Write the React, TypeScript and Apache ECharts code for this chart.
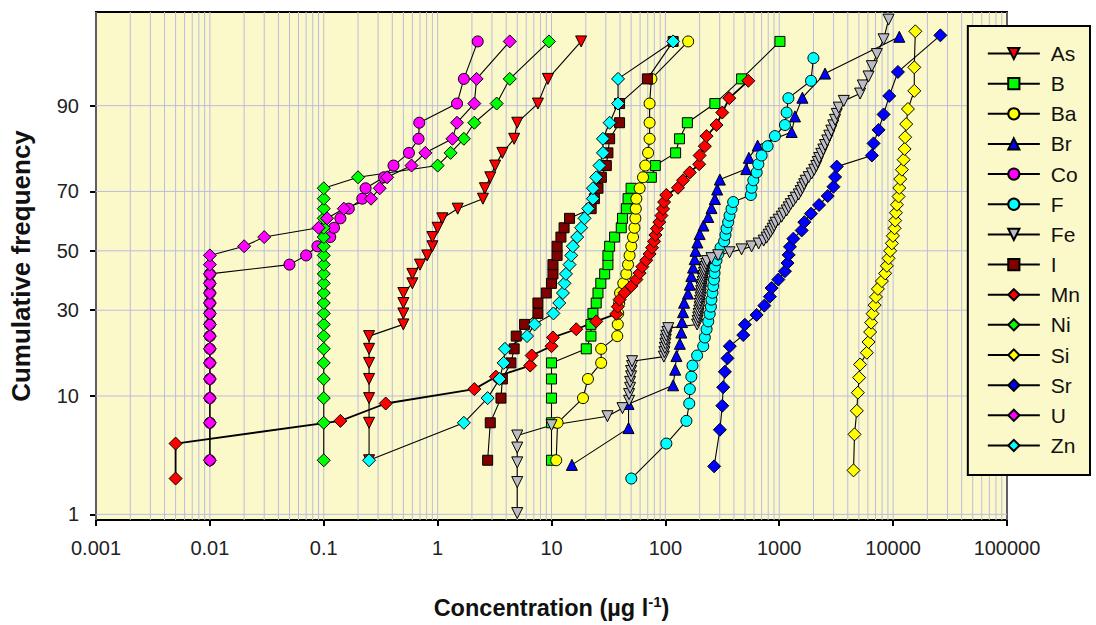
import { useEffect, useRef } from "react";
import * as echarts from "echarts";

// ---------------- data (concentrations in µg/l, sorted, one per sample rank) ----------------
// cumulative frequency of rank i (1-based) = i / (n + 1)
const AS_N = 30;
const AS = [0.25, 0.25, 0.25, 0.25, 0.25, 0.25, 0.25, 0.5, 0.5, 0.5, 0.5, 0.6, 0.6, 0.7, 0.81, 0.9, 0.9, 1.0, 1.1, 1.5, 2.5, 2.6, 2.9, 3.2, 3.7, 4.7, 5.0, 7.6, 9.3, 18.2];
const B_N = 30;
const B = [10, 10, 10, 10, 10, 20.2, 22.2, 22.2, 23.1, 24.7, 25.6, 27.1, 29.3, 31.3, 31.3, 32.4, 35.8, 41, 42, 45.4, 47, 50, 75.3, 81.5, 123, 133, 156, 272, 467, 1014];
const BA_N = 30;
const BA = [11, 11.3, 18.9, 20.9, 27.3, 27.3, 37.8, 38.2, 38.5, 39.3, 40, 42.7, 45.4, 47, 48.5, 50.2, 52, 53.5, 54.5, 55, 55.6, 59.4, 63.6, 66.6, 70.5, 72.7, 72.7, 72.7, 75.4, 158.5];
const BR_N = 33;
const BR = [15.1, 47.5, 47.5, 117, 122, 125, 134, 138, 140, 143, 146, 158, 164, 169, 175, 181, 184, 191, 200, 216, 238, 254, 272, 285, 301, 513, 541, 646, 1285, 1375, 1597, 2524, 11330];
const CO_N = 30;
const CO = [0.01, 0.01, 0.01, 0.01, 0.01, 0.01, 0.01, 0.01, 0.01, 0.01, 0.01, 0.01, 0.01, 0.05, 0.07, 0.088, 0.114, 0.123, 0.14, 0.166, 0.218, 0.233, 0.338, 0.41, 0.56, 0.68, 0.69, 1.48, 1.7, 2.25];
const F_N = 44;
const F = [50.2, 102, 153, 162, 164, 169, 173, 190, 215, 222, 230, 238, 245, 251, 254, 259, 263, 267, 270, 272, 281, 292, 305, 328, 337, 344, 356, 366, 381, 394, 563, 572, 592, 633, 655, 700, 790, 916, 1122, 1161, 1202, 1901, 1995];
const FE_N = 96;
const FE = [5, 5, 5, 5, 5, 10, 31, 42, 48, 48, 49, 49, 50, 50, 51, 51, 97, 98, 99, 100, 101, 102, 104, 106,
  190, 192, 194, 196, 198, 200, 200, 202, 204, 205, 206, 208, 210, 212, 214, 216, 218, 220, 224, 228, 232,
  254, 291, 366, 467, 572, 659, 730, 775, 807, 840, 875, 902, 929, 988, 1050, 1094, 1162, 1211, 1260, 1330,
  1394, 1482, 1542, 1597, 1656, 1707, 1815, 1928, 2028, 2113, 2178, 2245, 2339, 2437, 2524, 2641, 2750, 2865,
  2981, 3092, 3200, 3333, 3688, 5130, 5420, 6083, 6505, 7197, 8245, 9120];
const I_N = 30;
const I = [2.75, 2.9, 3.6, 3.7, 4.4, 4.7, 4.9, 5.8, 7.6, 7.6, 9.0, 10.0, 10.3, 10.3, 11.2, 11.2, 12.1, 12.9, 14.4, 22.3, 23.8, 25.6, 27.4, 30.3, 31.3, 32.4, 39.6, 39.6, 69.5, 117];
const MN_N = 44;
const MN = [0.005, 0.005, 0.14, 0.35, 2.1, 3.25, 6.5, 6.7, 10, 10.3, 16.5, 24.7, 37, 38.2, 39.6, 43.8, 50.2, 55.6, 59.4, 62.7, 68, 72.7, 76.4, 79.5, 81.7, 84.2, 88.5, 92.3, 95.4, 97.5, 102, 129, 143, 164, 198, 200, 222, 230, 281, 316, 364, 535];
const NI_N = 30;
const NI = [0.1, 0.1, 0.1, 0.1, 0.1, 0.1, 0.1, 0.1, 0.1, 0.1, 0.1, 0.1, 0.1, 0.1, 0.1, 0.1, 0.1, 0.1, 0.1, 0.1, 0.1, 0.1, 0.2, 1.0, 1.3, 1.7, 2.1, 3.3, 4.3, 9.5];
const SI_N = 37;
const SI = [4490, 4580, 4800, 4900, 5030, 5130, 5875, 6083, 6283, 6410, 6600, 6875, 7060, 7350, 7965, 8510, 8810, 9120, 9420, 9750, 9960, 10300, 10420, 10580, 10800, 11170, 11320, 11540, 11940, 12360, 12620, 12760, 13030, 13490, 15340, 15340, 15670];
const SR_N = 34;
const SR = [268, 301, 316, 322, 333, 351, 368, 483, 499, 633, 739, 828, 857, 982, 1122, 1182, 1210, 1242, 1330, 1574, 1660, 1900, 2236, 2665, 2993, 3092, 3200, 6505, 6730, 7450, 8245, 9250, 11020, 26000];
const U_N = 30;
const U = [0.01, 0.01, 0.01, 0.01, 0.01, 0.01, 0.01, 0.01, 0.01, 0.01, 0.01, 0.01, 0.01, 0.01, 0.01, 0.02, 0.03, 0.09, 0.107, 0.15, 0.26, 0.31, 0.36, 0.59, 0.78, 1.35, 1.48, 2.1, 2.2, 4.3];
const ZN_N = 30;
const ZN = [0.25, 1.7, 2.75, 3.5, 3.8, 3.9, 6.1, 7.1, 10.4, 11.7, 12.6, 13.0, 13.4, 14.4, 14.9, 15.4, 16.8, 18.2, 19.5, 21, 23.1, 23.1, 24.7, 26.4, 28.3, 28.3, 32.4, 38.4, 38.4, 117];

// axis ticks / ranges
const Y_TICKS = [1, 10, 30, 50, 70, 90]; // cumulative frequency (%)
const Y_RANGE_PCT = [0.875, 98.25];
const X_MIN = 0.001;
const X_MAX = 100000;
const X_DECADES = [0.001, 0.01, 0.1, 1, 10, 100, 1000, 10000, 100000];
const X_MINOR_MULT = [2, 3, 4, 5, 6, 7, 8, 9];

// ---------------- styling ----------------
const FONT = "'Liberation Sans', Arial, Helvetica, sans-serif";
const PLOT_BG = "#fbf9c9";
const GRID_COLOR = "#bdbbdd";

type Meta = { name: string; n: number; values: number[]; symbol: string; rotate: number; color: string; size: number; lw?: number };
const SERIES: Meta[] = [
  { name: "As", n: AS_N, values: AS, symbol: "triangle", rotate: 180, color: "#ff0000", size: 11 },
  { name: "B", n: B_N, values: B, symbol: "rect", rotate: 0, color: "#00ff00", size: 10 },
  { name: "Ba", n: BA_N, values: BA, symbol: "circle", rotate: 0, color: "#ffff00", size: 11 },
  { name: "Br", n: BR_N, values: BR, symbol: "triangle", rotate: 0, color: "#0000ff", size: 11 },
  { name: "Co", n: CO_N, values: CO, symbol: "circle", rotate: 0, color: "#ff00ff", size: 11 },
  { name: "F", n: F_N, values: F, symbol: "circle", rotate: 0, color: "#00ffff", size: 11 },
  { name: "Fe", n: FE_N, values: FE, symbol: "triangle", rotate: 180, color: "#bcbcc4", size: 11 },
  { name: "I", n: I_N, values: I, symbol: "rect", rotate: 0, color: "#800000", size: 10 },
  { name: "Mn", n: MN_N, values: MN, symbol: "diamond", rotate: 0, color: "#ff0000", size: 13, lw: 1.8 },
  { name: "Ni", n: NI_N, values: NI, symbol: "diamond", rotate: 0, color: "#00ff00", size: 13 },
  { name: "Si", n: SI_N, values: SI, symbol: "diamond", rotate: 0, color: "#ffff00", size: 13 },
  { name: "Sr", n: SR_N, values: SR, symbol: "diamond", rotate: 0, color: "#0000ff", size: 13 },
  { name: "U", n: U_N, values: U, symbol: "diamond", rotate: 0, color: "#ff00ff", size: 13 },
  { name: "Zn", n: ZN_N, values: ZN, symbol: "diamond", rotate: 0, color: "#00ffff", size: 13 },
];

// inverse standard normal CDF (probability-scale axis transform)
function probit(p: number): number {
  const a = [-3.969683028665376e1, 2.209460984245205e2, -2.759285104469687e2, 1.38357751867269e2, -3.066479806614716e1, 2.506628277459239];
  const b = [-5.447609879822406e1, 1.615858368580409e2, -1.556989798598866e2, 6.680131188771972e1, -1.328068155288572e1];
  const c = [-7.784894002430293e-3, -3.223964580411365e-1, -2.400758277161838, -2.549732539343734, 4.374664141464968, 2.938163982698783];
  const d = [7.784695709041462e-3, 3.224671290700398e-1, 2.445134137142996, 3.754408661907416];
  const pl = 0.02425;
  if (p < pl) {
    const q = Math.sqrt(-2 * Math.log(p));
    return (((((c[0] * q + c[1]) * q + c[2]) * q + c[3]) * q + c[4]) * q + c[5]) / ((((d[0] * q + d[1]) * q + d[2]) * q + d[3]) * q + 1);
  }
  if (p > 1 - pl) {
    const q = Math.sqrt(-2 * Math.log(1 - p));
    return -(((((c[0] * q + c[1]) * q + c[2]) * q + c[3]) * q + c[4]) * q + c[5]) / ((((d[0] * q + d[1]) * q + d[2]) * q + d[3]) * q + 1);
  }
  const q = p - 0.5;
  const r = q * q;
  return ((((((a[0] * r + a[1]) * r + a[2]) * r + a[3]) * r + a[4]) * r + a[5]) * q) / (((((b[0] * r + b[1]) * r + b[2]) * r + b[3]) * r + b[4]) * r + 1);
}

export default function App() {
  const ref = useRef<HTMLDivElement>(null);

  useEffect(() => {
    if (!ref.current) return;
    const chart = echarts.init(ref.current, undefined, { renderer: "svg" });

    const yMin = probit(Y_RANGE_PCT[0] / 100);
    const yMax = probit(Y_RANGE_PCT[1] / 100);
    const yTickZ = Y_TICKS.map((p) => probit(p / 100));

    const xGrid: number[][] = [];
    X_DECADES.forEach((d, i) => {
      xGrid.push([d, 0]);
      if (i < X_DECADES.length - 1) X_MINOR_MULT.forEach((m) => xGrid.push([d * m, 0]));
    });
    const yGrid = yTickZ.map((z) => [1, z]);

    const dataSeries = SERIES.map((s) => ({
      name: s.name,
      type: "line",
      z: 3,
      data: s.values.map((v, i) => [v, probit((i + 1) / (s.n + 1))]),
      symbol: s.symbol,
      symbolRotate: s.rotate,
      symbolSize: s.size,
      showSymbol: true,
      lineStyle: { color: "#000", width: s.lw ?? 1.1 },
      itemStyle: { color: s.color, borderColor: "#000", borderWidth: 1 },
      emphasis: { disabled: true },
      clip: false,
    }));

    const option: any = {
      animation: false,
      backgroundColor: "#ffffff",
      textStyle: { fontFamily: FONT },
      grid: {
        left: 96,
        right: 89,
        top: 12,
        bottom: 99,
        show: true,
        backgroundColor: PLOT_BG,
        borderColor: "#000",
        borderWidth: 2,
        containLabel: false,
      },
      legend: {
        data: SERIES.map((s) => s.name),
        orient: "vertical",
        right: 6,
        top: 26,
        backgroundColor: PLOT_BG,
        borderColor: "#000",
        borderWidth: 2,
        borderRadius: 0,
        padding: [17, 10, 19, 19],
        itemWidth: 52,
        itemHeight: 14,
        itemGap: 9.15,
        selectedMode: false,
        textStyle: { fontSize: 21, color: "#111", fontFamily: FONT, padding: [0, 0, 0, 6] },
      },
      xAxis: {
        type: "log",
        logBase: 10,
        min: X_MIN,
        max: X_MAX,
        splitNumber: 8,
        name: "Concentration (µg l{sup|-1})",
        nameLocation: "middle",
        nameGap: 74,
        nameTextStyle: {
          fontSize: 23.5,
          fontWeight: "bold",
          color: "#111",
          fontFamily: FONT,
          rich: {
            sup: { fontSize: 15, fontWeight: "bold", color: "#111", verticalAlign: "top", padding: [0, 0, 13, 0] },
          },
        },
        axisLine: { show: true, onZero: false, lineStyle: { color: "#000", width: 2 } },
        axisTick: { show: true, length: 6, lineStyle: { color: "#000", width: 2 } },
        axisLabel: {
          fontSize: 20,
          color: "#222",
          margin: 18,
          fontFamily: FONT,
          formatter: (v: number) => String(Number(v.toPrecision(6))),
        },
        splitLine: { show: false },
        minorTick: { show: false },
      },
      yAxis: {
        type: "value",
        min: yMin,
        max: yMax,
        name: "Cumulative frequency",
        nameLocation: "middle",
        nameRotate: 90,
        nameGap: 62,
        nameTextStyle: { fontSize: 26, fontWeight: "bold", color: "#111", fontFamily: FONT },
        axisLine: { show: true, onZero: false, lineStyle: { color: "#000", width: 2 } },
        axisTick: { show: true, length: 6, lineStyle: { color: "#000", width: 2 }, customValues: yTickZ },
        axisLabel: {
          fontSize: 20,
          color: "#222",
          margin: 17,
          fontFamily: FONT,
          customValues: yTickZ,
          formatter: (v: number) => {
            let best = 0;
            for (let i = 1; i < yTickZ.length; i++) {
              if (Math.abs(yTickZ[i] - v) < Math.abs(yTickZ[best] - v)) best = i;
            }
            return String(Y_TICKS[best]);
          },
        },
        splitLine: { show: false },
      },
      series: [
        {
          type: "custom",
          name: "vgrid",
          z: 1,
          silent: true,
          data: xGrid,
          encode: { x: 0, y: 1 },
          renderItem: (_p: any, api: any) => {
            const v = api.value(0);
            const p1 = api.coord([v, yMin]);
            const p2 = api.coord([v, yMax]);
            return {
              type: "line",
              shape: { x1: p1[0], y1: p1[1], x2: p2[0], y2: p2[1] },
              style: { stroke: GRID_COLOR, lineWidth: 1 },
            };
          },
        },
        {
          type: "custom",
          name: "hgrid",
          z: 1,
          silent: true,
          data: yGrid,
          encode: { x: 0, y: 1 },
          renderItem: (_p: any, api: any) => {
            const z = api.value(1);
            const p1 = api.coord([X_MIN, z]);
            const p2 = api.coord([X_MAX, z]);
            return {
              type: "line",
              shape: { x1: p1[0], y1: p1[1], x2: p2[0], y2: p2[1] },
              style: { stroke: GRID_COLOR, lineWidth: 1 },
            };
          },
        },
        ...dataSeries,
      ],
    };

    chart.setOption(option);
    return () => chart.dispose();
  }, []);

  return (
    <div
      ref={ref}
      style={{ position: "fixed", left: 0, top: 0, width: 1096, height: 625, background: "#fff" }}
    />
  );
}
